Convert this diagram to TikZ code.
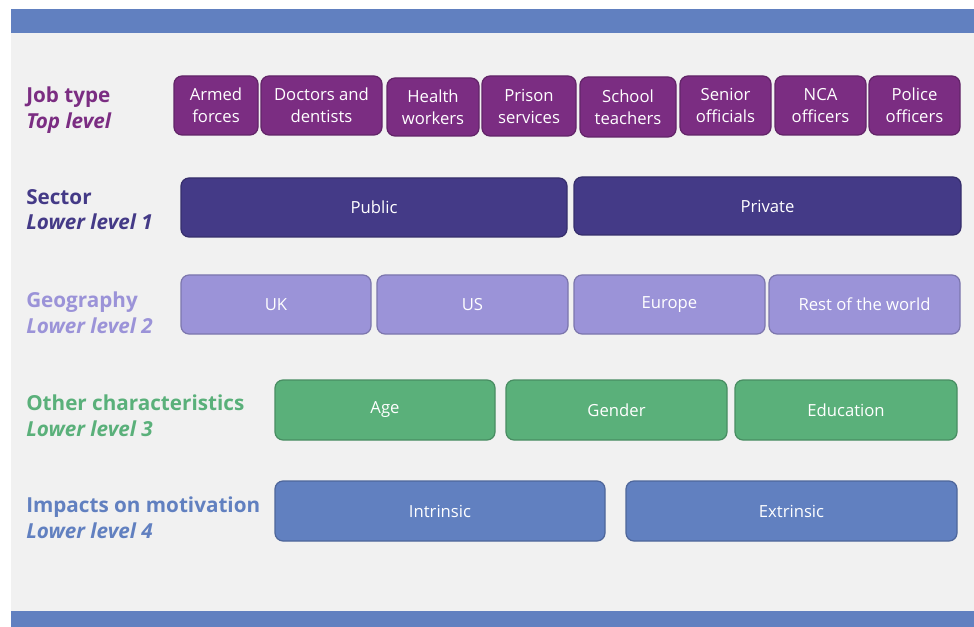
\documentclass[tikz,border=0pt]{standalone}
\usepackage{fontspec}
\setmainfont{Open Sans}
\usetikzlibrary{fit}

\definecolor{jobcol}{HTML}{7B2D82}
\definecolor{seccol}{HTML}{443A87}
\definecolor{geocol}{HTML}{9B93D8}
\definecolor{othcol}{HTML}{5AB07A}
\definecolor{impcol}{HTML}{6180C0}
\definecolor{panelcol}{HTML}{F1F1F1}

\tikzset{
  lvlbox/.style={rounded corners=6pt, inner sep=0pt, fill=#1, draw=#1!80!black,
    line width=0.9pt},
  boxtext/.style={label={[text=white, align=center, inner sep=0pt,
    font=\fontsize{12.5}{16.5}\selectfont]center:#1}},
  lvltext/.style={anchor=north west, inner sep=0pt, align=left, text=#1,
    font=\fontsize{15.5}{19}\selectfont\bfseries},
}

\begin{document}
\begin{tikzpicture}[x=0.75pt,y=0.75pt,yscale=-1,xscale=1]
\useasboundingbox (0,0) rectangle (974,627);

%Panel and bars
\fill[white] (0,0) rectangle (974,627);
\fill[panelcol] (11,9) rectangle (974,627);
\fill[impcol] (11,9) rectangle (974,33);
\fill[impcol] (11,611) rectangle (974,627);

% Job type
\node[lvltext=jobcol] (jobtype) at (26,87) {Job type\\\itshape Top level};
\node[lvlbox=jobcol, fit={(174,76) (258,135)}, boxtext={Armed\\forces}] (armed) {};
\node[lvlbox=jobcol, fit={(261,76) (382,135)}, boxtext={Doctors and\\dentists}] (doctors) {};
\node[lvlbox=jobcol, fit={(387,78) (479,136)}, boxtext={Health\\workers}] (health) {};
\node[lvlbox=jobcol, fit={(482,76) (576,136)}, boxtext={Prison\\services}] (prison) {};
\node[lvlbox=jobcol, fit={(580,77) (676,137)}, boxtext={School\\teachers}] (school) {};
\node[lvlbox=jobcol, fit={(680,76) (771,135)}, boxtext={Senior\\officials}] (senior) {};
\node[lvlbox=jobcol, fit={(775,76) (866,135)}, boxtext={NCA\\officers}] (nca) {};
\node[lvlbox=jobcol, fit={(869,76) (960,135)}, boxtext={Police\\officers}] (police) {};

% Sector
\node[lvltext=seccol] (sector) at (26,189) {Sector\\\itshape Lower level 1};
\node[lvlbox=seccol, fit={(181,178) (567,237)}, boxtext=Public] (public) {};
\node[lvlbox=seccol, fit={(574,177) (961,235)}, boxtext=Private] (private) {};

% Geography
\node[lvltext=geocol] (geography) at (26,292) {Geography\\\itshape Lower level 2};
\node[lvlbox=geocol, fit={(181,275) (371,334)}, boxtext=UK] (uk) {};
\node[lvlbox=geocol, fit={(377,275) (568,334)}, boxtext=US] (us) {};
\node[lvlbox=geocol, fit={(574,275) (765,334)}, boxtext=Europe] (europe) {};
\node[lvlbox=geocol, fit={(769,275) (960,334)}, boxtext=Rest of the world] (rest) {};

% Other characteristics
\node[lvltext=othcol] (other) at (26,395) {Other characteristics\\\itshape Lower level 3};
\node[lvlbox=othcol, fit={(275,380) (495,440)}, boxtext=Age] (age) {};
\node[lvlbox=othcol, fit={(506,380) (727,440)}, boxtext=Gender] (gender) {};
\node[lvlbox=othcol, fit={(735,380) (957,440)}, boxtext=Education] (education) {};

% Impacts on motivation
\node[lvltext=impcol] (impacts) at (26,497) {Impacts on motivation\\\itshape Lower level 4};
\node[lvlbox=impcol, fit={(275,481) (605,541)}, boxtext=Intrinsic] (intrinsic) {};
\node[lvlbox=impcol, fit={(626,481) (957,541)}, boxtext=Extrinsic] (extrinsic) {};

\end{tikzpicture}
\end{document}
